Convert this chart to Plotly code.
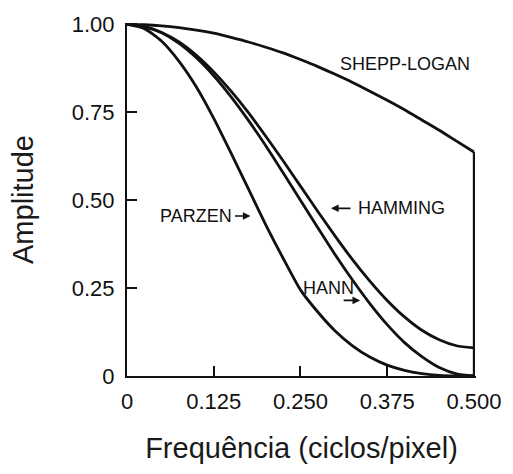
import plotly.graph_objects as go

# Frequency axis (cycles/pixel) and window amplitudes
freq = [0.0, 0.025, 0.05, 0.075, 0.1, 0.125, 0.15, 0.175, 0.2, 0.225, 0.25,
        0.275, 0.3, 0.325, 0.35, 0.375, 0.4, 0.425, 0.45, 0.475, 0.5]

shepp_logan = [1.0, 0.999, 0.996, 0.991, 0.984, 0.975, 0.963, 0.950, 0.935, 0.919, 0.900,
               0.880, 0.858, 0.835, 0.810, 0.784, 0.757, 0.728, 0.699, 0.668, 0.637]
hamming = [1.0, 0.994, 0.977, 0.950, 0.912, 0.865, 0.810, 0.749, 0.682, 0.612, 0.540,
           0.468, 0.398, 0.331, 0.270, 0.215, 0.168, 0.130, 0.103, 0.086, 0.080]
hann = [1.0, 0.994, 0.976, 0.946, 0.905, 0.854, 0.794, 0.727, 0.655, 0.578, 0.500,
        0.422, 0.345, 0.273, 0.206, 0.146, 0.095, 0.055, 0.024, 0.006, 0.0]
parzen = [1.0, 0.988, 0.952, 0.895, 0.822, 0.733, 0.634, 0.532, 0.430, 0.335, 0.245,
          0.182, 0.128, 0.086, 0.054, 0.031, 0.016, 0.007, 0.002, 0.0003, 0.0]

x_ticks = [0, 0.125, 0.25, 0.375, 0.5]
x_tick_text = ["0", "0.125", "0.250", "0.375", "0.500"]
y_ticks = [0, 0.25, 0.5, 0.75, 1.0]
y_tick_text = ["0", "0.25", "0.50", "0.75", "1.00"]

INK = "#111111"
FONT = "Liberation Sans, Arial, Helvetica, sans-serif"

fig = go.Figure()

line_style = dict(color=INK, width=2.8, shape="spline", smoothing=0.6)

for series in (shepp_logan, hamming, hann, parzen):
    fig.add_trace(go.Scatter(x=freq, y=series, mode="lines", line=line_style,
                             cliponaxis=False, hoverinfo="skip"))

# Cutoff edge: vertical drop of the Shepp-Logan window at the last frequency
fig.add_trace(go.Scatter(x=[freq[-1], freq[-1]], y=[shepp_logan[-1], 0.0], mode="lines",
                         line=dict(color=INK, width=2.2), cliponaxis=False,
                         hoverinfo="skip"))

label_font = dict(family=FONT, size=18, color=INK)
labels = [
    ("SHEPP-LOGAN", 0.401, 0.887),
    ("HAMMING", 0.396, 0.477),
    ("PARZEN", 0.100, 0.455),
    ("HANN", 0.291, 0.249),
]
for text, x, y in labels:
    fig.add_annotation(x=x, y=y, text=text, showarrow=False, font=label_font,
                       xanchor="center", yanchor="middle")

# Small pointer arrows next to the labels
arrows = [
    (0.178, 0.455, -17),   # PARZEN ->
    (0.294, 0.477, 21),    # <- HAMMING
    (0.336, 0.215, -18),   # HANN ->
]
for x, y, dx in arrows:
    fig.add_annotation(x=x, y=y, ax=dx, ay=0, text="", showarrow=True,
                       arrowhead=2, arrowsize=0.9, arrowwidth=1.7, arrowcolor=INK)

axis_common = dict(
    showline=True, linecolor=INK, linewidth=2,
    ticks="inside", ticklen=10, tickwidth=1.6, tickcolor=INK,
    showgrid=False, zeroline=False,
    tickfont=dict(family=FONT, size=22, color="#111111"),
    title_font=dict(family=FONT, size=29, color="#1a1a1a"),
)

fig.update_xaxes(range=[0, 0.503], tickvals=x_ticks, ticktext=x_tick_text,
                 title_text="Frequência (ciclos/pixel)", title_standoff=24,
                 ticklabelstandoff=5, **axis_common)
fig.update_yaxes(range=[0, 1.004], tickvals=y_ticks, ticktext=y_tick_text,
                 title_text="Amplitude", title_standoff=30,
                 ticklabelstandoff=6, **axis_common)

fig.update_layout(
    width=513, height=474,
    margin=dict(l=127, r=30, t=21, b=98),
    plot_bgcolor="white", paper_bgcolor="white",
    showlegend=False,
)

fig.write_html("out.html")
